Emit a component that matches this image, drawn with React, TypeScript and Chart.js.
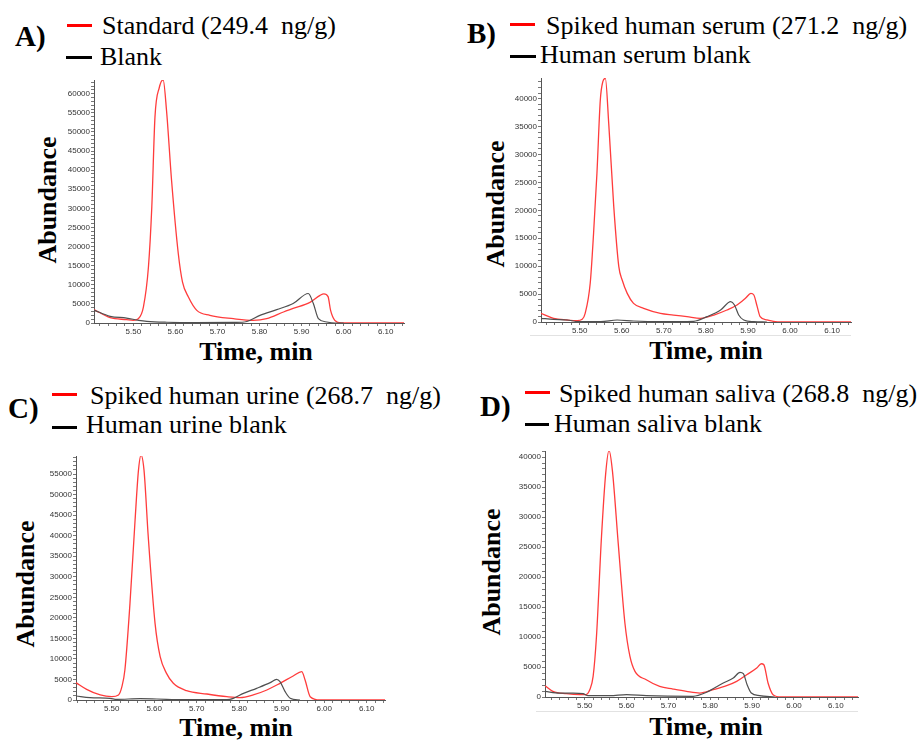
import React, { useEffect, useRef } from "react";
import { Chart, registerables } from "chart.js";
Chart.register(...registerables);

// ---------- Panel A ----------
const aStdTime = [5.4066, 5.445, 5.484, 5.5, 5.512, 5.524, 5.536, 5.544, 5.5515, 5.562, 5.571, 5.579, 5.591, 5.607, 5.617, 5.631, 5.651, 5.682, 5.738, 5.785, 5.817, 5.857, 5.88, 5.92, 5.944, 5.953, 5.963, 5.969, 5.979, 5.995, 6.1435];
const aStdAbund = [3490, 1400, 880, 700, 1130, 4180, 14650, 30340, 53880, 61700, 63640, 55620, 37300, 18130, 10720, 6800, 3310, 2000, 1130, 700, 1130, 2880, 3800, 5400, 7240, 7640, 6900, 3300, 700, 0, 0];
const aBlankTime = [5.4066, 5.445, 5.484, 5.513, 5.532, 5.58, 5.65, 5.74, 5.77, 5.801, 5.841, 5.88, 5.916, 5.928, 5.94, 5.96, 5.98, 6.0];
const aBlankAbund = [3400, 1750, 1300, 700, 440, 200, 100, 150, 400, 2000, 3500, 5090, 7720, 5090, 1140, 260, 0, 0];

// ---------- Panel B ----------
const bSpikedTime = [5.408, 5.438, 5.47, 5.494, 5.506, 5.513, 5.525, 5.533, 5.541, 5.549, 5.555, 5.561, 5.569, 5.581, 5.593, 5.601, 5.613, 5.628, 5.652, 5.692, 5.723, 5.755, 5.787, 5.819, 5.85, 5.874, 5.894, 5.907, 5.914, 5.922, 5.929, 5.945, 5.961, 5.977, 6.145];
const bSpikedAbund = [1550, 660, 360, 240, 480, 1550, 6930, 15880, 26630, 39760, 43040, 43640, 35580, 20660, 9910, 7520, 5130, 3340, 2450, 1550, 1250, 960, 660, 1250, 2150, 3040, 4240, 5130, 4840, 2750, 960, 360, 120, 0, 0];
const bBlankTime = [5.408, 5.438, 5.47, 5.498, 5.55, 5.589, 5.628, 5.69, 5.771, 5.803, 5.835, 5.859, 5.868, 5.878, 5.89, 5.914, 5.945];
const bBlankAbund = [660, 480, 360, 60, 60, 360, 180, 60, 120, 960, 2150, 3640, 3040, 1250, 360, 60, 0];

// ---------- Panel C ----------
const cSpikedTime = [5.416, 5.441, 5.473, 5.5, 5.516, 5.524, 5.531, 5.543, 5.555, 5.563, 5.569, 5.576, 5.586, 5.602, 5.614, 5.629, 5.645, 5.676, 5.724, 5.771, 5.802, 5.833, 5.865, 5.896, 5.927, 5.947, 5.955, 5.967, 5.99, 6.143];
const cSpikedAbund = [4220, 2600, 1220, 810, 1220, 3240, 7300, 23520, 43800, 55960, 59610, 55960, 39740, 18650, 10540, 6490, 4060, 2270, 1460, 810, 570, 1220, 2430, 4060, 5840, 6890, 4870, 810, 0, 0];
const cBlankTime = [5.416, 5.449, 5.496, 5.512, 5.567, 5.606, 5.669, 5.771, 5.786, 5.81, 5.841, 5.873, 5.888, 5.896, 5.908, 5.92, 5.943];
const cBlankAbund = [970, 570, 410, 160, 320, 240, 80, 80, 410, 1620, 2840, 4220, 5030, 4460, 2030, 410, 0];

// ---------- Panel D ----------
const dSpikedTime = [5.405, 5.424, 5.456, 5.488, 5.502, 5.512, 5.52, 5.528, 5.54, 5.55, 5.558, 5.566, 5.58, 5.596, 5.608, 5.62, 5.647, 5.679, 5.711, 5.743, 5.775, 5.807, 5.839, 5.863, 5.887, 5.911, 5.922, 5.928, 5.938, 5.95, 5.97, 6.153];
const dSpikedAbund = [1880, 940, 550, 390, 390, 1220, 3430, 10080, 26700, 37230, 41110, 37780, 25600, 12300, 6760, 4270, 2880, 1770, 1330, 940, 660, 1220, 1880, 2600, 3710, 4820, 5540, 5370, 2330, 390, 0, 0];
const dBlankTime = [5.405, 5.44, 5.472, 5.496, 5.508, 5.56, 5.6, 5.647, 5.759, 5.791, 5.831, 5.855, 5.871, 5.879, 5.888, 5.898, 5.918, 5.954];
const dBlankAbund = [940, 660, 660, 550, 220, 220, 390, 220, 110, 780, 2330, 3160, 4100, 3880, 2050, 660, 220, 0];

// ---------- Text ----------
const panelLetters = ["A)", "B)", "C)", "D)"];
const redLegend = ["Standard (249.4  ng/g)", "Spiked human serum (271.2  ng/g)", "Spiked human urine (268.7  ng/g)", "Spiked human saliva (268.8  ng/g)"];
const blackLegend = ["Blank", "Human serum blank", "Human urine blank", "Human saliva blank"];
const yTitle = "Abundance";
const xTitle = "Time, min";

// tick steps (minor) and labelled (major) intervals
const xMinorStep = 0.02;
const xMajorStep = 0.1;
const yMinorStep = 1000;
const yMajorStep = 5000;

const SERIF = '"Liberation Serif", "Times New Roman", serif';
const YW = 45, PT = 4, PR = 14, XH = 18;

type Layout = {
  area: [number, number, number, number]; // L, T, R, B
  xRange: [number, number];
  yMax: number;
  letter: [number, number];
  redLine: [number, number, number];
  blackLine: [number, number, number];
  redText: [number, number];
  blackText: [number, number];
  yTitlePos: [number, number];
  xTitlePos: [number, number];
  underline?: [number, number, number];
};

const layouts: Layout[] = [
  { area: [94, 80, 404, 323], xRange: [5.4066, 6.1435], yMax: 63600, letter: [15, 46.7], redLine: [67, 92, 25], blackLine: [66, 92, 57], redText: [102, 34.3], blackText: [100, 66], yTitlePos: [57, 200], xTitlePos: [256, 360.7] },
  { area: [541, 78, 851, 322], xRange: [5.408, 6.145], yMax: 43700, letter: [467, 43.3], redLine: [510, 535, 24], blackLine: [510, 536, 56], redText: [546, 34.3], blackText: [540, 64], yTitlePos: [505, 203.5], xTitlePos: [706, 359.3], underline: [530, 851, 335] },
  { area: [76, 456, 385, 700], xRange: [5.416, 6.143], yMax: 59400, letter: [8, 418.3], redLine: [52, 77, 394], blackLine: [52, 77, 427], redText: [90, 404.3], blackText: [86, 434], yTitlePos: [35, 583.5], xTitlePos: [236, 736.7] },
  { area: [545, 451, 858, 697], xRange: [5.405, 6.153], yMax: 41000, letter: [480, 416], redLine: [525, 550, 392], blackLine: [525, 549, 424], redText: [559, 402.3], blackText: [554, 432.7], yTitlePos: [501, 571.5], xTitlePos: [706, 736], underline: [536, 858, 711] },
];

const seriesSets = [
  { red: [aStdTime, aStdAbund], black: [aBlankTime, aBlankAbund] },
  { red: [bSpikedTime, bSpikedAbund], black: [bBlankTime, bBlankAbund] },
  { red: [cSpikedTime, cSpikedAbund], black: [cBlankTime, cBlankAbund] },
  { red: [dSpikedTime, dSpikedAbund], black: [dBlankTime, dBlankAbund] },
];

const toXY = (t: number[], v: number[]) => t.map((x, i) => ({ x, y: v[i] }));

function stepTicks(min: number, max: number, step: number) {
  const out: { value: number }[] = [];
  const k0 = Math.ceil(min / step - 1e-9);
  const k1 = Math.floor(max / step + 1e-9);
  for (let k = k0; k <= k1; k++) out.push({ value: Math.round(k * step * 1e6) / 1e6 });
  return out;
}

function ChromChart({ idx }: { idx: number }) {
  const ref = useRef<HTMLCanvasElement>(null);
  const lay = layouts[idx];
  const [L, T, R, B] = lay.area;
  const cl = L - YW;
  const ct = T - PT;
  const W = R - L + YW + PR;
  const H = B - T + PT + XH;

  useEffect(() => {
    const s = seriesSets[idx];
    const fit = (w?: number, h?: number) => (scale: any) => {
      if (w !== undefined) scale.width = w;
      if (h !== undefined) scale.height = h;
      scale.paddingTop = 0;
      scale.paddingBottom = 0;
      scale.paddingLeft = 0;
      scale.paddingRight = 0;
    };
    const tickFont = { family: '"Liberation Sans", Arial, sans-serif', size: 8 };
    const chart = new Chart(ref.current as HTMLCanvasElement, {
      type: "line",
      data: {
        datasets: [
          {
            data: toXY(s.black[0], s.black[1]),
            borderColor: "#505050",
            borderWidth: 1.2,
            pointRadius: 0,
            cubicInterpolationMode: "monotone",
            fill: false,
          },
          {
            data: toXY(s.red[0], s.red[1]),
            borderColor: "rgb(255,60,60)",
            borderWidth: 1.3,
            pointRadius: 0,
            cubicInterpolationMode: "monotone",
            fill: false,
          },
        ],
      },
      options: {
        responsive: false,
        animation: false,
        layout: { padding: { top: PT, right: PR, left: 0, bottom: 0 } },
        plugins: { legend: { display: false }, tooltip: { enabled: false } },
        scales: {
          x: {
            type: "linear",
            min: lay.xRange[0],
            max: lay.xRange[1],
            afterBuildTicks: (sc: any) => {
              sc.ticks = stepTicks(lay.xRange[0], lay.xRange[1], xMinorStep);
            },
            afterFit: fit(undefined, XH),
            border: { display: true, color: "#555", width: 1 },
            grid: { display: true, drawOnChartArea: false, drawTicks: true, tickLength: 3, color: "#777" },
            ticks: {
              autoSkip: false,
              maxRotation: 0,
              minRotation: 0,
              padding: 1,
              color: "#333",
              font: tickFont,
              callback: (v: any) => {
                const r = Math.round(Number(v) / xMinorStep);
                const per = Math.round(xMajorStep / xMinorStep);
                return r % per === 0 ? Number(v).toFixed(2) : "";
              },
            },
          },
          y: {
            type: "linear",
            min: 0,
            max: lay.yMax,
            afterBuildTicks: (sc: any) => {
              sc.ticks = stepTicks(0, lay.yMax, yMinorStep);
            },
            afterFit: fit(YW, undefined),
            border: { display: true, color: "#555", width: 1 },
            grid: { display: true, drawOnChartArea: false, drawTicks: true, tickLength: 3, color: "#777" },
            ticks: {
              autoSkip: false,
              padding: 1,
              color: "#333",
              font: tickFont,
              callback: (v: any) => {
                const r = Math.round(Number(v));
                return r % yMajorStep === 0 ? String(r) : "";
              },
            },
          },
        },
      },
    } as any);
    return () => chart.destroy();
  }, [idx]);

  return (
    <canvas
      ref={ref}
      width={W}
      height={H}
      style={{ position: "absolute", left: cl, top: ct, width: W, height: H }}
    />
  );
}

function Txt({ x, baseline, size, bold, text, center }: { x: number; baseline: number; size: number; bold?: boolean; text: string; center?: boolean }) {
  return (
    <span
      style={{
        position: "absolute",
        left: x,
        top: baseline - 0.8375 * size,
        fontFamily: SERIF,
        fontSize: size,
        fontWeight: bold ? "bold" : "normal",
        lineHeight: 1,
        whiteSpace: "pre",
        color: "#000",
        transform: center ? "translateX(-50%)" : undefined,
      }}
    >
      {text}
    </span>
  );
}

function RotTxt({ bx, cy, size, text }: { bx: number; cy: number; size: number; text: string }) {
  return (
    <div style={{ position: "absolute", left: bx, top: cy, width: 0, height: 0 }}>
      <span
        style={{
          position: "absolute",
          left: 0,
          top: 0,
          fontFamily: SERIF,
          fontSize: size,
          fontWeight: "bold",
          lineHeight: 1,
          whiteSpace: "nowrap",
          transformOrigin: "0 0",
          transform: `rotate(-90deg) translate(-50%, -${0.8375 * size}px)`,
        }}
      >
        {text}
      </span>
    </div>
  );
}

function Panel({ idx }: { idx: number }) {
  const lay = layouts[idx];
  const line = (l: [number, number, number], color: string) => (
    <div style={{ position: "absolute", left: l[0], top: l[2] - 1.5, width: l[1] - l[0], height: 3, background: color }} />
  );
  return (
    <>
      <Txt x={lay.letter[0]} baseline={lay.letter[1]} size={29} bold text={panelLetters[idx]} />
      {line(lay.redLine, "#ff0000")}
      {line(lay.blackLine, "#000")}
      <Txt x={lay.redText[0]} baseline={lay.redText[1]} size={26} text={redLegend[idx]} />
      <Txt x={lay.blackText[0]} baseline={lay.blackText[1]} size={26} text={blackLegend[idx]} />
      <RotTxt bx={lay.yTitlePos[0]} cy={lay.yTitlePos[1]} size={26} text={yTitle} />
      <Txt x={lay.xTitlePos[0]} baseline={lay.xTitlePos[1]} size={26} bold center text={xTitle} />
      {lay.underline && (
        <div style={{ position: "absolute", left: lay.underline[0], top: lay.underline[2], width: lay.underline[1] - lay.underline[0], height: 1, background: "#e2e2e2" }} />
      )}
      <ChromChart idx={idx} />
    </>
  );
}

export default function App() {
  return (
    <div style={{ position: "absolute", left: 0, top: 0, width: 917, height: 740, background: "#fff", overflow: "hidden" }}>
      {[0, 1, 2, 3].map((i) => (
        <Panel key={i} idx={i} />
      ))}
    </div>
  );
}
